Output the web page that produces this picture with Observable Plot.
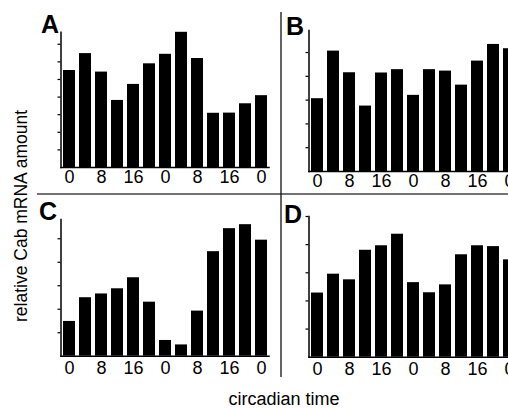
<!DOCTYPE html>
<html>
<head>
<meta charset="utf-8">
<script src="https://cdn.jsdelivr.net/npm/d3@7"></script>
<script src="https://cdn.jsdelivr.net/npm/@observablehq/plot@0.6"></script>
<style>
  html, body { margin: 0; padding: 0; background: #fff; overflow: hidden; }
  #wrap { position: relative; width: 508px; height: 409px; overflow: hidden; background: #fff; }
  .layer { position: absolute; left: 0; top: 0; }
</style>
</head>
<body>
<div id="wrap"></div>
<script>
// circadian time points (hours), sampled every 4 h over 48 h
const times = [0, 4, 8, 12, 16, 20, 24, 28, 32, 36, 40, 44, 48];
const tickTimes = [0, 8, 16, 24, 32, 40, 48];
const tickLabels = ["0", "8", "16", "0", "8", "16", "0"];

// relative Cab mRNA amount (arbitrary units, one unit = one y tick)
const valuesA = [5.51, 6.47, 5.42, 3.81, 4.72, 5.89, 6.43, 7.68, 6.19, 3.08, 3.09, 3.62, 4.08];
const valuesB = [3.06, 5.06, 4.15, 2.75, 4.14, 4.28, 3.20, 4.28, 4.22, 3.63, 4.64, 5.34, 5.16];
const valuesC = [1.48, 2.49, 2.65, 2.87, 3.34, 2.30, 0.67, 0.48, 1.92, 4.45, 5.43, 5.60, 4.94];
const valuesD = [2.28, 2.95, 2.75, 3.80, 3.96, 4.37, 2.65, 2.29, 2.57, 3.64, 3.96, 3.93, 3.46];

const yMaxA = 7.68, yMaxB = 5.93, yMaxC = 5.82, yMaxD = 5.0;
const yTicksA = [1, 2, 3, 4, 5, 6, 7];
const yTicksB = [1, 2, 3, 4, 5];
const yTicksC = [1, 2, 3, 4, 5];
const yTicksD = [1, 2, 3, 4, 5];

const panelLetters = ["A", "B", "C", "D"];
const yTitle = "relative Cab mRNA amount";
const xTitle = "circadian time";

const FONT = "'Liberation Sans', Arial, Helvetica, sans-serif";
const W = 540, H = 409;
const wrap = document.getElementById("wrap");

function panel(values, yMax, yTicks, g) {
  const data = times.map((t, i) => ({t, v: values[i]}));
  const chart = Plot.plot({
    width: W,
    height: H,
    marginLeft: g.left,
    marginRight: W - (g.left + 208),
    marginTop: g.top,
    marginBottom: H - g.base,
    style: {fontFamily: FONT, background: "transparent", overflow: "visible"},
    x: {type: "band", domain: times, paddingInner: 0.28, paddingOuter: 0.14, label: null},
    y: {domain: [0, yMax], label: null},
    marks: [
      Plot.barY(data, {x: "t", y: "v", fill: "#000"}),
      Plot.axisY({ticks: yTicks, tickSize: 3, tickFormat: () => "", strokeWidth: 1.2, label: null}),
      Plot.axisX({ticks: tickTimes, tickSize: 0, tickPadding: g.pad, fontSize: 18, label: null,
                  fill: "#000", tickFormat: d => tickLabels[tickTimes.indexOf(d)]}),
      Plot.frame({anchor: "left", stroke: "#000", strokeWidth: 1.5}),
      Plot.frame({anchor: "bottom", stroke: "#000", strokeWidth: 1.5})
    ]
  });
  chart.classList.add("layer");
  chart.style.width = W + "px";
  chart.style.maxWidth = "none";
  wrap.appendChild(chart);
}

panel(valuesA, yMaxA, yTicksA, {left: 60.5, top: 31.8, base: 167, pad: 3});
panel(valuesB, yMaxB, yTicksB, {left: 308.5, top: 29.9, base: 171, pad: 3});
panel(valuesC, yMaxC, yTicksC, {left: 60.5, top: 219, base: 355.7, pad: 5});
panel(valuesD, yMaxD, yTicksD, {left: 308.5, top: 216, base: 356.7, pad: 5});

// overlay: dividers, panel letters, shared axis titles
const ov = d3.select(wrap).append("svg")
  .attr("class", "layer")
  .attr("width", 508).attr("height", 409)
  .style("font-family", FONT);

ov.append("line").attr("x1", 37).attr("x2", 508).attr("y1", 194).attr("y2", 194)
  .attr("stroke", "#444").attr("stroke-width", 1.6);
ov.append("line").attr("x1", 281).attr("x2", 281).attr("y1", 12).attr("y2", 377)
  .attr("stroke", "#111").attr("stroke-width", 1.3);

const letterPos = [[41, 33], [286, 35], [39, 220], [284, 223]];
panelLetters.forEach((L, i) => {
  ov.append("text").attr("x", letterPos[i][0]).attr("y", letterPos[i][1])
    .attr("font-size", 25).attr("font-weight", "bold").attr("fill", "#000").text(L);
});

ov.append("text")
  .attr("transform", "translate(27,216) rotate(-90)")
  .attr("text-anchor", "middle").attr("font-size", 17.5).attr("fill", "#000")
  .text(yTitle);

ov.append("text")
  .attr("x", 284).attr("y", 405)
  .attr("text-anchor", "middle").attr("font-size", 18).attr("fill", "#000")
  .text(xTitle);
</script>
</body>
</html>
